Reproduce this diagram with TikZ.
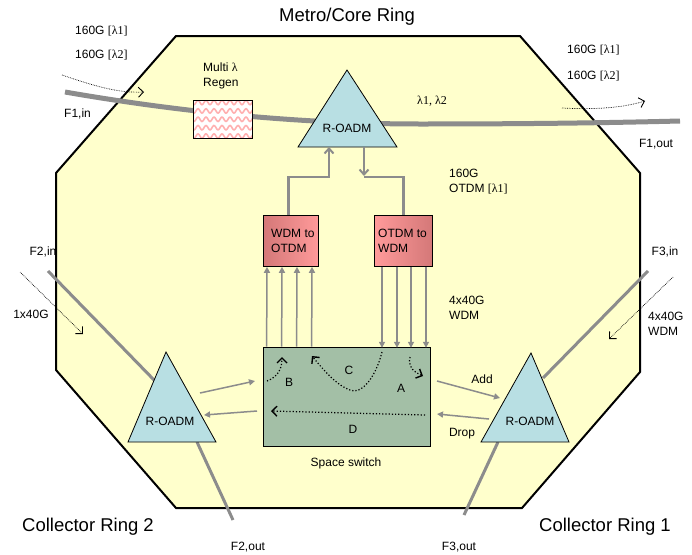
\documentclass[tikz,border=0pt]{standalone}
\usepackage{fontspec}
\setmainfont{Liberation Sans}
\newfontfamily\tms{Liberation Serif}
\usetikzlibrary{arrows.meta}
\definecolor{bgyel}{HTML}{FFFFCC}
\definecolor{tricol}{HTML}{B8DFE3}
\definecolor{swcol}{HTML}{A3BFA6}
\definecolor{gline}{HTML}{8C8C8C}
\definecolor{rdark}{HTML}{D47878}
\definecolor{rlight}{HTML}{FF9A9A}
\definecolor{wavecol}{HTML}{FFB0B0}
\tikzset{
  lbl/.style={inner sep=0pt, font=\fontsize{12}{15}\selectfont},
  bigl/.style={inner sep=0pt, font=\fontsize{18.5}{22}\selectfont},
  fiber/.style={draw=gline, line width=5pt},
  sfiber/.style={draw=gline, line width=3pt},
  garrow/.style={draw=gline, line width=1.5pt, -{Triangle[length=6pt,width=6pt]}},
  gl/.style={draw=gline, line width=2.5pt},
  garrowthick/.style={draw=gline, line width=2.5pt, -{Straight Barb[length=5pt,width=9pt,line width=2pt]}},
  darrow/.style={draw=black, line width=1.2pt, dotted, -{Straight Barb[length=5pt,width=10pt,line width=1.4pt]}},
  tdarrow/.style={draw=black, line width=0.7pt, densely dotted, -{Straight Barb[length=5pt,width=10pt,line width=0.9pt]}},
  tri/.style={draw=black, line width=0.8pt, fill=tricol},
  convbox/.style={draw=black, line width=0.8pt, minimum width=55pt, minimum height=51pt, inner sep=0pt, anchor=north west},
}
\begin{document}
\begin{tikzpicture}[x=1pt,y=-1pt]
\useasboundingbox (0,0) rectangle (692,554);
% octagon
\draw[fill=bgyel, line width=2pt, line join=miter]
  (176,36) -- (520,36) -- (640,173) -- (640,372) -- (522,508) -- (176,508) -- (56,370) -- (56,173) -- cycle;
\node[bigl] (title) at (347,17) {Metro/Core Ring};
\node[bigl] (cr2) at (88,527) {Collector Ring 2};
\node[bigl] (cr1) at (605,527) {Collector Ring 1};

% main fiber F1
\draw[fiber] (65,92) .. controls (180,112) and (300,124) .. (420,124) .. controls (520,124) and (600,123) .. (680,121);

% regen box
\node[draw=black, line width=0.8pt, fill=white, minimum width=59pt, minimum height=38pt, inner sep=0pt] (regen) at (222.5,119) {};
\begin{scope}
\clip (193,100) rectangle (252,138);
\foreach \k in {0,...,4}
  \draw[wavecol, line width=1.6pt] plot[domain=190:256, samples=90, smooth] (\x, {102.5+\k*8.4+2.2*sin(\x*45)});
\end{scope}
\draw[line width=0.8pt] (193,100) rectangle (252,138);
\node[lbl, align=left, anchor=north west] (regenl) at (203,63) {Multi {\tms λ}\\Regen};

% top R-OADM
\coordinate (t1apex) at (347,70);
\coordinate (t1L) at (298,147);
\coordinate (t1R) at (397,147);
\draw[tri] (t1apex) -- (t1R) -- (t1L) -- cycle;
\node[lbl] (t1) at (347,128) {R-OADM};
\coordinate (t1a) at (329,147);
\coordinate (t1b) at (364,147);

% labels top
\node[lbl, anchor=west] (l160a) at (75,31) {160G {\tms[λ1]}};
\node[lbl, anchor=west] (l160b) at (75,55) {160G {\tms[λ2]}};
\node[lbl, anchor=west] (f1in) at (64,114) {F1,in};
\node[lbl, anchor=west] (r160a) at (567,50) {160G {\tms[λ1]}};
\node[lbl, anchor=west] (r160b) at (567,76) {160G {\tms[λ2]}};
\node[lbl] (f1out) at (656,144) {F1,out};
\node[lbl, font=\tms\fontsize{12}{15}\selectfont] (lam12) at (432,101) {λ1, λ2};
\node[lbl, align=left, anchor=north west] (otdm160) at (449,169) {160G\\OTDM {\tms[λ1]}};

\coordinate (da1) at (62,75);
\coordinate (da2) at (144,92);
\draw[tdarrow] (da1) .. controls (100,88) and (120,93) .. (da2);
\coordinate (db1) at (562,108);
\coordinate (db2) at (645,101);
\draw[tdarrow] (db1) .. controls (600,110) and (625,107) .. (db2);

% converter boxes
\node[convbox, left color=rdark, right color=rlight] (wo) at (263,215) {};
\node[lbl, align=left, anchor=west] (wol) at (271,240.5) {WDM to\\OTDM};
\node[convbox, minimum width=58pt, left color=rlight, right color=rdark] (ow) at (374,215) {};
\node[lbl, align=left, anchor=west] (owl) at (378,240.5) {OTDM to\\WDM};

% connections to top R-OADM
\draw[gl, -{Straight Barb[length=5pt,width=9pt,line width=2pt]}] ([xshift=-2.5pt]wo.north) |- ([yshift=-30pt]t1a) -- (t1a);
\draw[garrowthick] (t1b) -- ([yshift=-29pt]t1b);
\draw[gl] ([yshift=-30pt]t1b) -| (ow.north);

% space switch
\node[draw=black, line width=0.8pt, fill=swcol, minimum width=167pt, minimum height=99pt, inner sep=0pt] (sw) at (346.5,396.5) {};
\node[lbl] (swl) at (346,463) {Space switch};
\node[lbl, align=left, anchor=north west] (w440) at (449,296) {4x40G\\WDM};

\foreach \o in {4,19,34,49}
  \draw[garrow] ([xshift=\o pt]sw.north west) -- ([xshift=\o pt]wo.south west);
\foreach \o in {8,23,37,52}
  \draw[garrow] ([xshift=\o pt]ow.south west) -- ++(0,81);

% switch internal paths
\node[lbl] (lB) at (289,382) {B};
\node[lbl] (lC) at (349,370) {C};
\node[lbl] (lA) at (401,388) {A};
\node[lbl] (lD) at (353,429) {D};
\coordinate (b1) at (267,381);
\coordinate (b2) at (282,357);
\draw[darrow] (b1) .. controls (277,377) and (282,370) .. (b2);
\coordinate (c1) at (382,352);
\coordinate (c2) at (312,356);
\draw[darrow] (c1) .. controls (375,380) and (360,395) .. (350,390) .. controls (338,386) and (325,372) .. (c2);
\coordinate (a1) at (410,357);
\coordinate (a2) at (423,376);
\draw[darrow] (a1) .. controls (408,366) and (412,371) .. (a2);
\coordinate (d1) at (425,415);
\coordinate (d2) at (271,411);
\draw[darrow] (d1) -- (d2);

% left R-OADM (collector ring 2)
\coordinate (t2apex) at (166,352);
\coordinate (t2L) at (128,442);
\coordinate (t2R) at (216,442);
\coordinate (f2a) at (48,271);
\coordinate (f2b) at (155,381);
\coordinate (f2c) at (197,442);
\coordinate (f2d) at (233,520);
\draw[sfiber] (f2a) -- (f2b);
\draw[sfiber] (f2c) -- (f2d);
\draw[tri] (t2apex) -- (t2R) -- (t2L) -- cycle;
\node[lbl] (t2) at (170,421) {R-OADM};
\node[lbl] (f2in) at (43,252) {F2,in};
\node[lbl] (x140) at (31,314) {1x40G};
\node[lbl] (f2out) at (248,547) {F2,out};
\coordinate (e1) at (20,272);
\coordinate (e2) at (83,334);
\draw[tdarrow] (e1) -- (e2);
\coordinate (g1) at (200,393);
\coordinate (g2) at (255,381);
\draw[garrow] (g1) -- (g2);
\coordinate (h1) at (257,411);
\coordinate (h2) at (204,415);
\draw[garrow] (h1) -- (h2);

% right R-OADM (collector ring 1)
\coordinate (t3apex) at (531,353);
\coordinate (t3L) at (481,442);
\coordinate (t3R) at (569,442);
\coordinate (f3a) at (648,271);
\coordinate (f3b) at (543,378);
\coordinate (f3c) at (498,442);
\coordinate (f3d) at (464,515);
\draw[sfiber] (f3a) -- (f3b);
\draw[sfiber] (f3c) -- (f3d);
\draw[tri] (t3apex) -- (t3R) -- (t3L) -- cycle;
\node[lbl] (t3) at (530,421) {R-OADM};
\node[lbl] (f3in) at (665,252) {F3,in};
\node[lbl, align=left, anchor=north west] (w440b) at (648,312) {4x40G\\WDM};
\node[lbl] (f3out) at (459,547) {F3,out};
\coordinate (k1) at (673,277);
\coordinate (k2) at (609,339);
\draw[tdarrow] (k1) -- (k2);
\coordinate (m1) at (437,381);
\coordinate (m2) at (500,398);
\draw[garrow] (m1) -- (m2);
\node[lbl] (add) at (482,379) {Add};
\coordinate (n1) at (489,419);
\coordinate (n2) at (437,414);
\draw[garrow] (n1) -- (n2);
\node[lbl] (drop) at (462,434) {Drop};
\end{tikzpicture}
\end{document}
